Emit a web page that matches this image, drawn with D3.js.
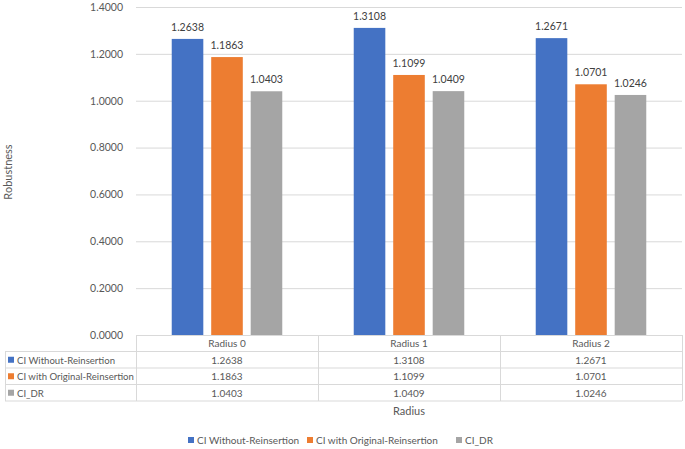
<!DOCTYPE html>
<html><head><meta charset="utf-8">
<script src="https://cdn.jsdelivr.net/npm/d3@7"></script>
<style>body{margin:0;background:#fff;} svg{display:block;font-family:Lato,"Open Sans",sans-serif;}</style>
</head><body>
<svg id="c" width="685" height="449"></svg>
<script>
const categories = ["Radius 0", "Radius 1", "Radius 2"];
const seriesNames = ["CI Without-Reinsertion", "CI with Original-Reinsertion", "CI_DR"];
const withoutReinsertion = [1.2638, 1.3108, 1.2671];
const originalReinsertion = [1.1863, 1.1099, 1.0701];
const ciDR = [1.0403, 1.0409, 1.0246];
const yTicks = [0, 0.2, 0.4, 0.6, 0.8, 1.0, 1.2, 1.4];
const colors = ["#4472C4", "#ED7D31", "#A5A5A5"];
const seriesValues = [withoutReinsertion, originalReinsertion, ciDR];

(function () {
const svg = d3.select("#c");
const pLeft = 136, pRight = 682, pTop = 7, pBottom = 335;
const textColor = "#595959", gridColor = "#D9D9D9";
const fs = "10px";

const y = d3.scaleLinear().domain([0, 1.4]).range([pBottom, pTop]);
const x0 = d3.scaleBand().domain(categories).range([pLeft, pRight]).paddingInner(0).paddingOuter(0);
const x1 = d3.scaleBand().domain(seriesNames).range([0, x0.bandwidth()]).paddingInner(0.2).paddingOuter(0.905);

svg.append("g").selectAll("line").data(yTicks).join("line")
  .attr("x1", pLeft).attr("x2", pRight)
  .attr("y1", d => y(d) + 0.5).attr("y2", d => y(d) + 0.5)
  .attr("stroke", gridColor).attr("stroke-width", 1);

const yAxis = d3.axisLeft(y).tickValues(yTicks).tickFormat(d3.format(".4f")).tickSize(0).tickPadding(13);
const ga = svg.append("g").attr("transform", `translate(${pLeft},0)`).call(yAxis);
ga.select(".domain").remove();
ga.selectAll("text").attr("fill", textColor).style("font-size", "10.5px").style("font-family", "Lato,'Open Sans',sans-serif");

const groups = svg.append("g").selectAll("g").data(categories).join("g")
  .attr("transform", d => `translate(${x0(d)},0)`);
groups.each(function(cat, ci) {
  const g = d3.select(this);
  seriesNames.forEach((s, si) => {
    const v = seriesValues[si][ci];
    g.append("rect").attr("x", x1(s)).attr("width", x1.bandwidth())
      .attr("y", y(v)).attr("height", y(0) - y(v)).attr("fill", colors[si]);
    g.append("text").attr("x", x1(s) + x1.bandwidth() / 2).attr("y", y(v) - 8)
      .attr("text-anchor", "middle").attr("fill", "#404040").style("font-size", "10.5px")
      .text(v.toFixed(4));
  });
});

const rowH = 16.5;
const tbl = svg.append("g");
const tableBottom = pBottom + rowH * 4;
tbl.append("line").attr("x1", pLeft).attr("x2", pRight).attr("y1", pBottom + 0.5).attr("y2", pBottom + 0.5).attr("stroke", gridColor);
for (let r = 1; r <= 4; r++) {
  tbl.append("line").attr("x1", 5).attr("x2", pRight).attr("y1", pBottom + rowH * r).attr("y2", pBottom + rowH * r).attr("stroke", gridColor);
}
tbl.append("line").attr("x1", 5.5).attr("x2", 5.5).attr("y1", pBottom + rowH).attr("y2", tableBottom).attr("stroke", gridColor);
[pLeft, ...categories.map(c => x0(c) + x0.bandwidth())].forEach(xv => {
  tbl.append("line").attr("x1", xv + 0.5).attr("x2", xv + 0.5).attr("y1", pBottom).attr("y2", tableBottom).attr("stroke", gridColor);
});
categories.forEach(c => {
  tbl.append("text").attr("x", x0(c) + x0.bandwidth() / 2).attr("y", pBottom + rowH / 2 + 4)
    .attr("text-anchor", "middle").attr("fill", textColor).style("font-size", fs).text(c);
});
seriesNames.forEach((s, si) => {
  const ry = pBottom + rowH * (si + 1);
  tbl.append("rect").attr("x", 8).attr("y", ry + rowH / 2 - 3).attr("width", 6).attr("height", 6).attr("fill", colors[si]);
  tbl.append("text").attr("x", 17).attr("y", ry + rowH / 2 + 4).attr("fill", textColor).style("font-size", "9.6px").text(s);
  categories.forEach((c, ci) => {
    tbl.append("text").attr("x", x0(c) + x0.bandwidth() / 2).attr("y", ry + rowH / 2 + 4)
      .attr("text-anchor", "middle").attr("fill", textColor).style("font-size", fs)
      .text(seriesValues[si][ci].toFixed(4));
  });
});

svg.append("text").attr("x", (pLeft + pRight) / 2).attr("y", 415).attr("text-anchor", "middle")
  .attr("fill", textColor).style("font-size", "11px").text("Radius");
svg.append("text").attr("transform", "translate(12,172) rotate(-90)").attr("text-anchor", "middle")
  .attr("fill", textColor).style("font-size", "11px").text("Robustness");

const legendX = [188, 307, 456];
const lg = svg.append("g");
seriesNames.forEach((s, si) => {
  lg.append("rect").attr("x", legendX[si]).attr("y", 437).attr("width", 6).attr("height", 6).attr("fill", colors[si]);
  lg.append("text").attr("x", legendX[si] + 9).attr("y", 444).attr("fill", textColor).style("font-size", fs).text(s);
});
})();
</script>
</body></html>
